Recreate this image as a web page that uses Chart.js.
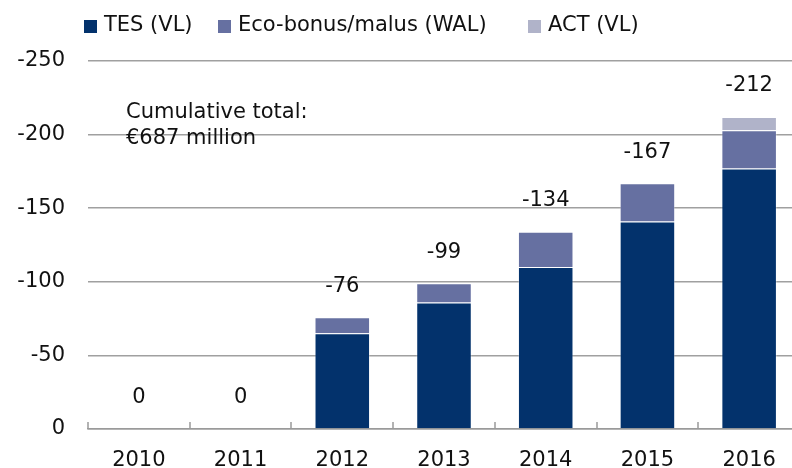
<!DOCTYPE html>
<html>
<head>
<meta charset="utf-8">
<script src="https://cdn.jsdelivr.net/npm/chart.js@4"></script>
<style>
  html, body { margin: 0; padding: 0; background: #fff; }
  #clip { width: 792px; height: 468px; overflow: hidden; }
  #wrap { width: 800px; height: 468px; }
</style>
</head>
<body>
<div id="clip"><div id="wrap"><canvas id="chart"></canvas></div></div>
<script>
const years = ["2010", "2011", "2012", "2013", "2014", "2015", "2016"];
const tes = [0, 0, -65, -86, -110, -141, -177];
const ecoBonus = [0, 0, -11, -13, -24, -26, -26];
const act = [0, 0, 0, 0, 0, 0, -9];
const seriesNames = ["TES (VL)", "Eco-bonus/malus (WAL)", "ACT (VL)"];
const colors = ["#03326c", "#6670a1", "#b0b3c9"];
const note = ["Cumulative total:", "€687 million"];

const FONT = "'DejaVu Sans'";
const legendX = [84, 218, 528];

// total labels above each bar, axis ticks, note and legend
const totalsPlugin = {
  id: "totals",
  afterDatasetsDraw(chart) {
    const ctx = chart.ctx;
    const x = chart.scales.x;
    const y = chart.scales.y;
    ctx.save();
    ctx.font = "21px " + FONT;
    ctx.fillStyle = "#111";
    ctx.textAlign = "center";
    ctx.textBaseline = "middle";
    years.forEach((yr, i) => {
      const total = tes[i] + ecoBonus[i] + act[i];
      ctx.fillText(String(total), x.getPixelForValue(i), y.getPixelForValue(total) - 31);
    });
    // x axis ticks pointing up at category boundaries
    ctx.strokeStyle = "#9a9a9a";
    ctx.lineWidth = 1.5;
    const half = (x.getPixelForValue(1) - x.getPixelForValue(0)) / 2;
    const base = y.getPixelForValue(0);
    for (let i = 0; i <= years.length; i++) {
      const px = Math.round(x.getPixelForValue(i) - half);
      ctx.beginPath();
      ctx.moveTo(px, base);
      ctx.lineTo(px, base - 7);
      ctx.stroke();
    }
    ctx.textAlign = "left";
    ctx.fillText(note[0], 126, 113);
    ctx.fillText(note[1], 126, 139);
    ctx.restore();
  },
  afterDraw(chart) {
    const ctx = chart.ctx;
    ctx.save();
    ctx.font = "21px " + FONT;
    ctx.textBaseline = "middle";
    ctx.textAlign = "left";
    seriesNames.forEach((name, i) => {
      ctx.fillStyle = colors[i];
      ctx.fillRect(legendX[i], 20, 13, 13);
      ctx.fillStyle = "#111";
      ctx.fillText(name, legendX[i] + 20, 26);
    });
    ctx.restore();
  },
};

const ctx = document.getElementById("chart").getContext("2d");
new Chart(ctx, {
  type: "bar",
  data: {
    labels: years,
    datasets: [
      { label: seriesNames[0], data: tes, backgroundColor: colors[0] },
      { label: seriesNames[1], data: ecoBonus, backgroundColor: colors[1] },
      { label: seriesNames[2], data: act, backgroundColor: colors[2] },
    ],
  },
  options: {
    responsive: true,
    maintainAspectRatio: false,
    animation: false,
    layout: { padding: { top: 61, left: 0, right: 0, bottom: 0 } },
    datasets: {
      bar: {
        categoryPercentage: 1,
        barPercentage: 0.546,
        borderWidth: 1,
        borderColor: "rgba(255,255,255,0.3)",
      },
    },
    plugins: {
      legend: { display: false },
      tooltip: { enabled: false },
    },
    scales: {
      x: {
        stacked: true,
        afterFit(scale) { scale.height = 39; },
        grid: { display: false, drawTicks: false },
        border: { display: true, color: "#9a9a9a", width: 1.5 },
        ticks: { color: "#111", font: { family: FONT, size: 21 }, padding: 19 },
      },
      y: {
        stacked: true,
        reverse: true,
        min: -250,
        max: 0,
        afterFit(scale) { scale.width = 88; },
        grid: { color: "#a0a0a0", lineWidth: 1.5, drawTicks: false },
        border: { display: false },
        ticks: {
          stepSize: 50,
          color: "#111",
          padding: 23,
          font: { family: FONT, size: 21 },
          callback: (v) => String(v),
        },
      },
    },
  },
  plugins: [totalsPlugin],
});
</script>
</body>
</html>
